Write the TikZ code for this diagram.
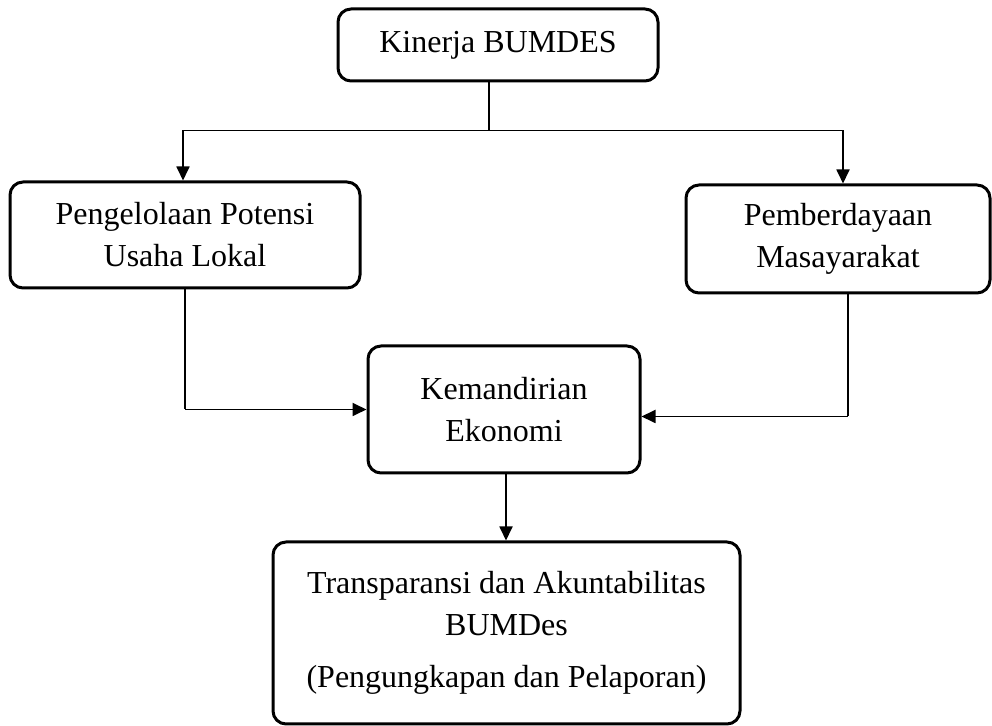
\documentclass[tikz,border=0pt]{standalone}
\usepackage{fontspec}
\setmainfont{Liberation Serif}
\usetikzlibrary{arrows.meta}
\tikzset{
	kotak/.style={draw, line width=1.5pt, rounded corners=6.5pt, align=center, inner sep=0pt,
		font={\fontsize{16pt}{21pt}\selectfont}},
	garis/.style={line width=0.6pt},
	panah/.style={line width=0.9pt, -{Triangle[length=7pt,width=6.5pt]}}
}
\begin{document}
\begin{tikzpicture}[x=0.5pt, y=-0.5pt]
			\useasboundingbox (0,0) rectangle (992,726);
			\node[kotak, minimum width=160pt, minimum height=36pt] (kinerja) at (498,45) {Kinerja BUMDES};
			\node[kotak, minimum width=175pt, minimum height=53pt] (pengelolaan) at (185,235) {Pengelolaan Potensi\\Usaha Lokal};
			\node[kotak, minimum width=152pt, minimum height=54pt] (pemberdayaan) at (838,239) {Pemberdayaan\\Masayarakat};
			\node[kotak, minimum width=136pt, minimum height=63.5pt] (kemandirian) at (504,409.5) {Kemandirian\\Ekonomi};
			\node[kotak, minimum width=233.5pt, minimum height=91pt] (transparansi) at (506.5,633) {Transparansi dan Akuntabilitas\\BUMDes\\[5pt](Pengungkapan dan Pelaporan)};
			\draw[garis] ([xshift=-4.5pt]kinerja.south) -- ++(0,-24pt) coordinate (cabang);
			\draw[garis] ([xshift=-1pt]pengelolaan.north |- cabang) -- ([xshift=2.5pt]pemberdayaan.north |- cabang);
			\draw[panah] ([xshift=-1pt]pengelolaan.north |- cabang) -- ([xshift=-1pt]pengelolaan.north);
			\draw[panah] ([xshift=2.5pt]pemberdayaan.north |- cabang) -- ([xshift=2.5pt]pemberdayaan.north);
			\draw[garis] (pengelolaan.south) -- (pengelolaan.south |- kemandirian.west);
			\draw[panah] (pengelolaan.south |- kemandirian.west) -- (kemandirian.west);
			\draw[garis] ([xshift=5pt]pemberdayaan.south) -- ([xshift=5pt,yshift=-3.5pt]pemberdayaan.south |- kemandirian.east);
			\draw[panah] ([xshift=5pt,yshift=-3.5pt]pemberdayaan.south |- kemandirian.east) -- ([yshift=-3.5pt]kemandirian.east);
			\draw[panah] ([xshift=1pt]kemandirian.south) -- ([xshift=1pt]kemandirian.south |- transparansi.north);
		\end{tikzpicture}
\end{document}
